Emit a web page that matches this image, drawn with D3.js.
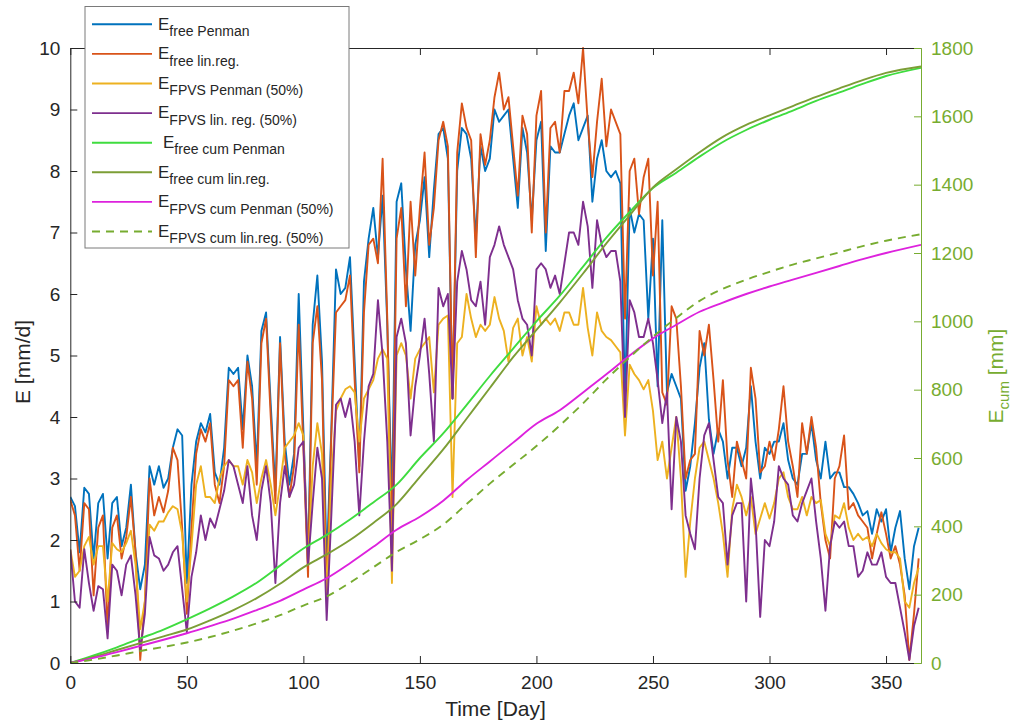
<!DOCTYPE html>
<html><head><meta charset="utf-8">
<script src="https://cdn.jsdelivr.net/npm/d3@7"></script>
<style>body{margin:0;background:#fff}svg{font-family:"Liberation Sans",Arial,sans-serif}</style>
</head><body><svg id="c" width="1019" height="726"></svg>
<script>
// ---------- data ----------
const days = d3.range(0, 365, 2); // sampled day numbers 0..364

const freePenman = [
2.7,2.55,1.8,2.85,2.75,1.7,2.6,2.75,1.7,2.6,2.7,1.9,2.2,2.9,1.8,1.2,1.6,3.2,2.9,3.2,2.85,3.0,3.5,3.8,3.7,1.3,2.9,
3.6,3.9,3.75,4.05,3.1,2.9,3.5,4.8,4.7,4.8,3.8,5.0,4.5,3.2,5.4,5.7,4.2,2.8,5.3,3.6,2.9,3.4,6.0,3.8,1.6,5.5,6.3,
4.9,1.6,3.8,6.4,6.0,6.1,6.6,4.9,3.2,6.2,6.9,7.4,6.6,7.6,5.5,2.6,7.5,7.8,6.4,5.4,6.8,7.2,7.9,6.6,7.7,
8.6,8.7,8.2,4.3,8.0,8.7,8.6,8.2,6.9,8.4,8.0,8.2,9.0,8.8,8.9,9.0,8.2,7.4,8.7,8.3,7.2,8.5,8.8,6.7,8.4,
8.3,8.3,8.6,8.9,9.1,8.5,8.7,8.9,7.5,8.2,8.5,8.0,7.9,8.0,7.8,4.3,7.4,7.0,7.3,7.2,5.6,6.9,4.5,7.2,4.4,4.7,
4.5,4.3,2.8,3.2,3.9,4.8,5.2,3.96,3.4,3.8,3.6,3.0,3.5,3.5,3.2,3.5,4.5,3.6,3.0,3.5,3.4,3.6,3.6,3.9,3.3,3.0,
2.9,3.4,3.4,3.9,3.3,3.0,3.6,3.0,3.1,3.1,2.86,2.86,2.75,2.6,2.4,2.47,2.1,2.5,2.3,2.5,1.8,2.2,2.47,1.7,1.2,1.9,2.2];

const freeLinReg = [
2.65,2.4,1.5,2.6,2.5,1.1,2.2,2.4,0.55,2.2,2.4,1.7,2.05,2.7,1.8,0.05,1.0,3.0,2.4,2.7,2.45,2.8,3.5,3.3,2.2,0.8,2.2,
3.4,3.8,3.6,3.9,2.9,2.6,3.2,4.6,4.5,4.6,3.5,4.9,4.3,2.9,5.2,5.6,4.0,2.6,5.2,3.4,2.7,3.2,5.5,3.5,1.4,5.2,5.8,
4.6,1.1,3.7,5.7,5.8,5.9,6.3,4.6,3.1,5.7,6.8,6.9,6.5,8.2,5.6,2.0,6.9,7.4,5.8,7.5,6.3,7.4,8.3,6.8,7.4,
8.5,8.8,8.4,4.3,8.3,9.1,8.7,8.5,6.6,8.6,8.1,8.5,9.2,9.6,9.0,9.2,8.4,7.6,8.9,8.6,7.0,8.9,9.3,7.0,8.7,
8.8,8.3,9.3,9.3,9.6,9.1,10.0,8.8,7.9,8.8,9.5,8.4,9.0,8.8,8.6,5.6,8.0,8.2,7.3,7.9,8.2,6.3,7.5,4.4,4.2,5.8,
5.6,4.5,3.0,3.3,3.4,5.4,5.0,5.5,4.6,3.6,4.6,3.3,2.7,3.6,3.3,3.0,4.8,4.3,3.1,3.2,3.6,3.3,3.8,4.5,3.6,3.2,
2.7,3.9,3.4,4.0,3.5,2.6,2.0,1.7,3.0,3.2,3.7,2.5,2.6,2.4,2.3,2.2,1.7,2.1,2.45,2.1,1.7,1.9,1.6,1.1,0.05,0.8,1.7];

const fpvsPenman = [
1.85,1.4,1.5,1.9,2.05,1.6,1.9,1.9,1.0,1.95,1.85,1.8,1.95,2.15,1.6,0.55,1.0,2.25,2.15,2.3,2.3,2.45,2.55,2.5,2.1,1.0,1.9,
2.9,3.2,2.7,2.7,2.6,3.0,3.2,3.3,3.2,3.2,2.9,3.3,3.1,2.6,3.0,3.3,2.9,2.4,2.9,3.5,3.6,3.7,3.9,3.7,1.6,3.2,3.9,
3.4,1.1,3.0,4.1,4.3,4.45,4.5,4.4,3.6,4.3,4.45,4.6,4.95,5.1,4.95,1.3,5.0,5.2,5.0,4.3,4.95,5.1,5.2,5.3,4.4,
5.5,5.6,5.65,2.7,5.2,5.3,6.0,5.6,5.3,5.5,5.4,5.5,5.95,5.6,5.4,4.9,5.45,5.6,5.0,5.3,4.9,5.8,5.5,5.6,5.5,
5.6,5.4,5.7,5.7,5.5,5.5,6.1,5.45,5.0,5.7,5.4,5.3,5.25,5.15,5.05,3.7,4.85,4.7,4.6,4.45,4.6,4.1,3.3,3.6,3.0,3.5,
4.0,3.0,1.4,2.3,3.0,3.5,3.6,3.3,3.0,2.6,2.1,1.4,2.5,2.9,2.7,2.4,2.7,2.1,2.35,2.6,2.35,2.6,3.0,3.1,2.7,2.5,
2.5,2.7,2.4,2.7,2.6,2.65,2.1,1.9,2.4,2.35,2.6,2.2,2.0,2.1,2.0,2.05,1.9,2.1,1.95,1.85,1.8,1.8,1.7,1.0,0.9,1.3,1.55];

const fpvsLinReg = [
1.84,1.0,0.9,1.85,1.3,0.85,1.25,1.2,0.4,1.6,1.5,1.1,1.6,1.75,1.1,0.2,0.8,2.05,1.75,1.7,1.5,1.6,1.8,1.9,1.2,0.5,1.4,
1.8,2.4,2.0,2.35,2.2,2.5,2.8,3.3,3.2,2.9,2.6,3.2,2.4,2.0,2.8,3.2,2.6,1.3,2.6,3.2,2.7,2.9,3.5,3.6,1.6,2.6,3.5,
3.0,0.7,2.4,4.2,4.3,4.0,4.3,3.6,2.4,3.6,4.5,4.7,5.9,5.0,3.6,1.5,5.3,5.6,5.2,3.7,4.5,5.0,5.6,4.7,3.6,
6.1,5.8,6.0,4.3,6.2,6.7,6.4,5.9,5.8,6.2,5.5,6.6,6.8,7.1,6.8,6.6,6.4,5.9,5.6,5.5,5.0,6.4,6.5,6.4,6.1,
6.3,6.0,6.5,7.0,7.0,6.8,7.5,7.1,6.1,7.2,6.8,6.6,6.7,6.7,6.2,4.0,5.9,5.7,5.3,5.3,5.6,5.2,4.6,3.9,4.4,2.5,
4.0,3.6,2.4,2.1,1.85,3.0,3.7,3.9,3.3,2.7,2.6,1.6,2.4,2.6,2.6,1.0,3.0,2.3,0.75,2.0,1.9,2.3,3.2,3.0,2.9,2.4,
2.3,2.6,2.8,3.0,2.3,1.7,0.85,1.9,2.3,2.2,2.3,1.9,1.9,1.4,1.5,1.8,1.6,1.6,1.8,1.4,1.3,1.3,0.9,0.5,0.05,0.6,0.9];

const cumDays = [0,10,20,30,40,50,60,70,80,90,100,110,120,130,140,150,160,170,180,190,200,210,220,230,240,250,260,270,280,290,300,310,320,330,340,350,365];
const cumFreePenman = [0,22,46,72,98,128,160,195,235,285,335,375,420,470,522,600,672,755,840,920,1000,1075,1160,1245,1320,1390,1435,1482,1525,1560,1590,1617,1645,1670,1695,1718,1742];
const cumFreeLinReg = [0,18,38,58,78,98,125,155,190,232,280,318,360,410,465,545,625,715,805,895,975,1055,1140,1228,1310,1392,1445,1495,1540,1575,1603,1630,1657,1682,1706,1727,1746];
const cumFpvsPenman = [0,15,32,50,68,87,108,130,155,182,215,248,292,340,390,428,475,535,590,645,700,740,792,845,900,950,990,1028,1055,1080,1102,1122,1142,1162,1182,1200,1224];
const cumFpvsLinReg = [0,10,22,35,47,60,76,95,116,140,168,195,235,280,325,362,405,465,525,580,635,695,760,830,895,955,1010,1060,1095,1122,1145,1166,1184,1202,1220,1236,1255];

const xTicks = [0,50,100,150,200,250,300,350];
const leftTicks = [0,1,2,3,4,5,6,7,8,9,10];
const rightTicks = [0,200,400,600,800,1000,1200,1400,1600,1800];
const legendSubs = ["free Penman","free lin.reg.","FPVS Penman (50%)","FPVS lin. reg. (50%)","free cum Penman","free cum lin.reg.","FPVS cum Penman (50%)","FPVS cum lin.reg. (50%)"];

// ---------- chart ----------
const svg = d3.select("#c");
const L = 70.3, R = 921, T = 48, B = 663;
const axisCol = "#262626", rightCol = "#77AC30";
const x = d3.scaleLinear().domain([0,365]).range([L,R]);
const yL = d3.scaleLinear().domain([0,10]).range([B,T]);
const yR = d3.scaleLinear().domain([0,1800]).range([B,T]);

svg.append("defs").append("clipPath").attr("id","clip")
  .append("rect").attr("x",L).attr("y",T-2).attr("width",R-L).attr("height",B-T+2);

const daily = [
  {v:freePenman, c:"#0072BD"},
  {v:freeLinReg, c:"#D95319"},
  {v:fpvsPenman, c:"#EDB120"},
  {v:fpvsLinReg, c:"#7E2F8E"}
];
const cums = [
  {v:cumFreePenman, c:"#3FDC3F", dash:null},
  {v:cumFreeLinReg, c:"#7C9E36", dash:null},
  {v:cumFpvsPenman, c:"#DD22DD", dash:null},
  {v:cumFpvsLinReg, c:"#77AC30", dash:"8,6"}
];

const g = svg.append("g").attr("clip-path","url(#clip)");
const lineL = d3.line().x((d,i)=>x(days[i])).y(d=>yL(d));
daily.forEach(s=>{
  g.append("path").attr("d",lineL(s.v)).attr("fill","none")
   .attr("stroke",s.c).attr("stroke-width",1.9).attr("stroke-linejoin","round");
});
const lineR = d3.line().x((d,i)=>x(cumDays[i])).y(d=>yR(d)).curve(d3.curveMonotoneX);
cums.forEach(s=>{
  g.append("path").attr("d",lineR(s.v)).attr("fill","none")
   .attr("stroke",s.c).attr("stroke-width",1.9)
   .attr("stroke-dasharray",s.dash);
});

// axes
const fs = "19px";
const gx = svg.append("g").attr("transform",`translate(0,${B})`)
  .call(d3.axisBottom(x).tickValues(xTicks).tickSizeInner(-7).tickSizeOuter(0).tickPadding(13));
const gxt = svg.append("g").attr("transform",`translate(0,${T})`)
  .call(d3.axisTop(x).tickValues(xTicks).tickSizeInner(-7).tickSizeOuter(0).tickFormat(""));
const gy = svg.append("g").attr("transform",`translate(${L},0)`)
  .call(d3.axisLeft(yL).tickValues(leftTicks).tickSizeInner(-7).tickSizeOuter(0).tickPadding(10));
const gr = svg.append("g").attr("transform",`translate(${R},0)`)
  .call(d3.axisRight(yR).tickValues(rightTicks).tickFormat(d3.format("d")).tickSizeInner(-7).tickSizeOuter(0).tickPadding(10));
[gx,gxt,gy].forEach(a=>{
  a.selectAll("path,line").attr("stroke",axisCol).attr("stroke-width",1);
  a.selectAll("text").attr("fill",axisCol).style("font-size",fs).style("font-family","Liberation Sans, Arial, sans-serif");
});
gr.selectAll("path,line").attr("stroke",rightCol).attr("stroke-width",1);
gr.selectAll("text").attr("fill",rightCol).style("font-size",fs).style("font-family","Liberation Sans, Arial, sans-serif");

// axis titles
svg.append("text").attr("x",495.5).attr("y",716).attr("text-anchor","middle")
  .attr("fill",axisCol).style("font-size","21px").text("Time [Day]");
svg.append("text").attr("transform","translate(30,362) rotate(-90)").attr("text-anchor","middle")
  .attr("fill",axisCol).style("font-size","21px").text("E [mm/d]");
const rt = svg.append("text").attr("transform","translate(1003,376) rotate(-90)").attr("text-anchor","middle")
  .attr("fill",rightCol).style("font-size","21px");
rt.append("tspan").text("E");
rt.append("tspan").attr("dy",6).style("font-size","15px").text("cum");
rt.append("tspan").attr("dy",-6).text(" [mm]");

// legend
const lg = svg.append("g");
lg.append("rect").attr("x",85).attr("y",6.5).attr("width",264).attr("height",241.5)
  .attr("fill","#fff").attr("stroke","#7a7a7a").attr("stroke-width",1);
const all = daily.concat(cums);
legendSubs.forEach((sub,i)=>{
  const yy = 24.3 + i*29.6;
  const s = all[i];
  lg.append("line").attr("x1",92).attr("x2",152).attr("y1",yy).attr("y2",yy)
    .attr("stroke",s.c).attr("stroke-width",1.9).attr("stroke-dasharray",s.dash||null);
  const t = lg.append("text").attr("x",i===4?163:158).attr("y",yy+5.2).attr("fill",axisCol);
  t.append("tspan").style("font-size","17px").text("E");
  t.append("tspan").attr("dy",6.5).style("font-size","14px").text(sub);
});
</script></body></html>
